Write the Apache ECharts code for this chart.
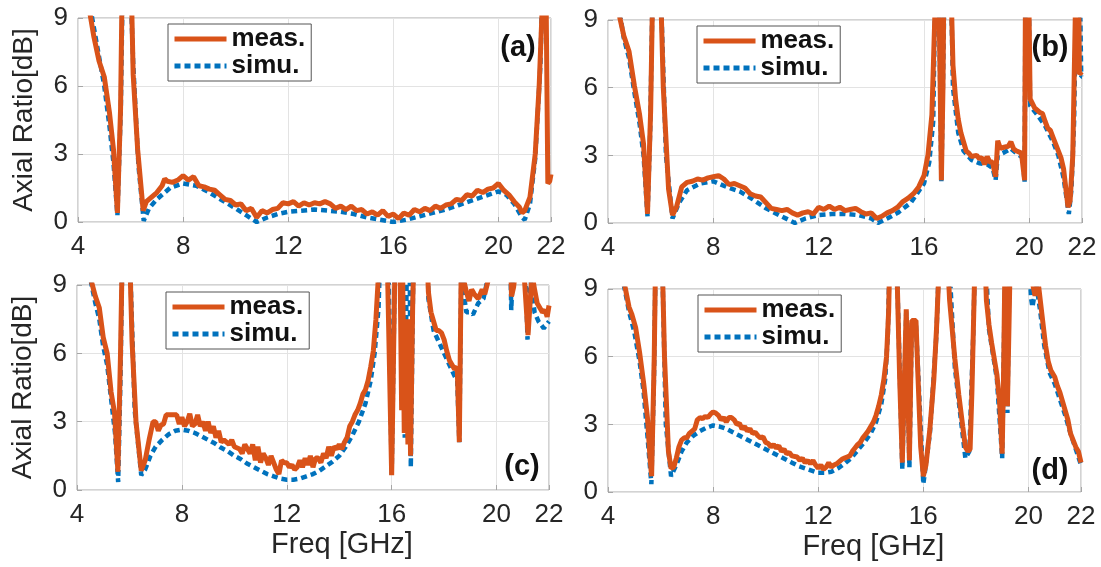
<!DOCTYPE html>
<html><head><meta charset="utf-8">
<script src="https://cdn.jsdelivr.net/npm/echarts@6/dist/echarts.min.js"></script>
<style>html,body{margin:0;padding:0;background:#fff}#c{width:1101px;height:567px}</style>
</head><body><div id="c"></div><script>
// ---------- data ----------
const seriesNames = ['meas.', 'simu.'];
const panelLabels = ['(a)', '(b)', '(c)', '(d)'];
const xTickLabels = [4, 8, 12, 16, 20, 22];
const yTickLabels = [0, 3, 6, 9];
const xTitle = 'Freq [GHz]';
const yTitle = 'Axial Ratio[dB]';

const measA = [[4.44,9.3],[4.6,8.2],[4.8,7.1],[5.0,6.4],[5.2,4.8],[5.35,3.2],[5.5,0.4],[5.62,5],[5.72,14],[5.96,14],[6.1,6.5],[6.27,3.2],[6.48,0.5],[6.6,0.9],[6.8,1.1],[7.0,1.3],[7.2,1.6],[7.3,1.9],[7.4,1.8],[7.6,1.75],[7.8,1.85],[8.0,2.05],[8.2,1.85],[8.4,2.0],[8.6,1.6],[8.8,1.55],[9.0,1.45],[9.2,1.4],[9.4,1.2],[9.6,1.0],[9.8,0.95],[10.0,0.75],[10.2,0.8],[10.4,0.5],[10.6,0.6],[10.8,0.2],[11.0,0.5],[11.2,0.4],[11.4,0.55],[11.6,0.6],[11.8,0.85],[12.0,0.8],[12.2,0.9],[12.4,0.7],[12.6,0.85],[12.8,0.75],[13.0,0.85],[13.2,0.8],[13.4,0.9],[13.6,0.8],[13.8,0.6],[14.0,0.7],[14.2,0.55],[14.4,0.7],[14.6,0.5],[14.8,0.55],[15.0,0.35],[15.2,0.45],[15.4,0.3],[15.6,0.5],[15.8,0.25],[16.0,0.35],[16.2,0.15],[16.4,0.4],[16.6,0.3],[16.8,0.55],[17.0,0.45],[17.2,0.6],[17.4,0.5],[17.6,0.7],[17.8,0.6],[18.0,0.75],[18.2,0.8],[18.4,1.0],[18.6,0.95],[18.8,1.2],[19.0,1.15],[19.2,1.4],[19.4,1.3],[19.6,1.45],[19.8,1.5],[20.0,1.7],[20.2,1.4],[20.4,1.2],[20.6,0.9],[20.8,0.65],[20.9,0.4],[21.0,0.5],[21.2,1.1],[21.4,3.0],[21.55,6.0],[21.7,10.5],[21.78,14],[21.84,14],[21.88,1.7],[21.95,1.8],[22.0,2.1]];
const simuA = [[4.46,9.5],[4.6,8.6],[4.8,7.3],[5.0,6.0],[5.2,4.2],[5.35,2.6],[5.5,0.3],[5.63,5],[5.72,12],[5.95,12],[6.1,7],[6.3,2.5],[6.5,0.05],[6.7,0.6],[7.0,1.0],[7.5,1.5],[8.0,1.7],[8.5,1.6],[9.0,1.3],[9.5,0.95],[10.0,0.6],[10.4,0.3],[10.8,0.0],[11.2,0.2],[11.6,0.35],[12.0,0.45],[12.5,0.5],[13.0,0.55],[13.5,0.5],[14.0,0.45],[14.5,0.35],[15.0,0.2],[15.5,0.1],[16.0,0.0],[16.5,0.1],[17.0,0.25],[17.5,0.4],[18.0,0.55],[18.5,0.75],[19.0,0.95],[19.5,1.15],[20.0,1.35],[20.3,1.2],[20.6,0.8],[20.9,0.2],[21.0,0.1],[21.2,0.8],[21.4,2.8],[21.6,7],[21.7,12],[22.0,12]];

const measB = [[4.43,9.2],[4.6,8.3],[4.8,7.6],[5.0,6.1],[5.2,4.8],[5.35,3.5],[5.5,0.4],[5.62,5],[5.72,12],[5.96,12],[6.1,6],[6.3,1.5],[6.45,0.35],[6.6,0.7],[6.8,1.6],[7.0,1.8],[7.2,1.85],[7.4,1.95],[7.6,1.9],[7.8,2.0],[8.0,2.05],[8.2,2.1],[8.4,1.95],[8.6,1.7],[8.8,1.75],[9.0,1.65],[9.2,1.55],[9.4,1.3],[9.6,1.2],[9.8,1.15],[10.0,0.9],[10.2,0.65],[10.4,0.6],[10.6,0.55],[10.8,0.6],[11.0,0.45],[11.2,0.35],[11.4,0.45],[11.6,0.5],[11.8,0.4],[12.0,0.7],[12.2,0.6],[12.4,0.75],[12.6,0.6],[12.8,0.7],[13.0,0.55],[13.2,0.6],[13.4,0.65],[13.6,0.5],[13.8,0.4],[14.0,0.45],[14.2,0.2],[14.4,0.3],[14.6,0.45],[14.8,0.55],[15.0,0.7],[15.2,0.95],[15.4,1.1],[15.6,1.3],[15.8,1.6],[16.0,2.1],[16.15,3.0],[16.3,4.8],[16.42,9.5],[16.47,14],[16.55,12],[16.66,1.9],[16.72,6],[16.78,14],[16.95,14],[17.1,7],[17.2,5.5],[17.3,4.6],[17.4,4.0],[17.5,3.6],[17.6,3.2],[17.7,3.1],[17.8,2.95],[18.0,3.0],[18.1,2.85],[18.2,2.9],[18.3,2.6],[18.4,2.95],[18.5,2.7],[18.6,2.7],[18.72,2.05],[18.8,3.65],[18.9,3.3],[19.0,3.35],[19.2,3.4],[19.3,3.6],[19.4,3.3],[19.5,3.2],[19.7,3.1],[19.82,1.9],[19.86,12],[19.96,12],[20.03,5.5],[20.2,5.1],[20.4,4.9],[20.5,4.85],[20.6,4.5],[20.7,4.2],[20.8,4.1],[20.9,3.8],[21.0,3.5],[21.1,3.2],[21.2,2.9],[21.3,2.4],[21.4,1.4],[21.47,0.7],[21.55,1.0],[21.65,3],[21.75,9.5],[21.85,14],[21.9,6.6],[22.0,6.7]];
const simuB = [[4.45,9.3],[4.6,8.2],[4.8,7.3],[5.0,5.8],[5.2,4.4],[5.35,3.0],[5.5,0.3],[5.6,4],[5.72,12],[5.96,12],[6.2,3],[6.45,0.2],[6.7,0.9],[7.0,1.45],[7.5,1.75],[8.0,1.85],[8.5,1.6],[9.0,1.4],[9.5,1.05],[10.0,0.65],[10.5,0.35],[11.1,0.0],[11.5,0.2],[12.0,0.35],[12.5,0.4],[13.0,0.4],[13.5,0.35],[14.0,0.2],[14.25,0.0],[14.6,0.2],[15.0,0.45],[15.5,0.9],[16.0,1.75],[16.2,2.7],[16.35,4.5],[16.45,12],[16.55,12],[16.66,1.8],[16.8,12],[17.0,12],[17.1,6],[17.3,4.0],[17.5,3.2],[17.8,2.8],[18.1,2.65],[18.4,2.6],[18.6,2.45],[18.72,1.9],[18.8,3.0],[19.0,3.1],[19.3,3.3],[19.5,3.1],[19.75,2.9],[19.82,1.8],[19.86,12],[19.96,12],[20.03,5.2],[20.3,4.8],[20.6,4.3],[20.9,3.6],[21.1,3.0],[21.3,2.0],[21.5,0.4],[21.6,1.5],[21.7,4.5],[21.8,12],[21.9,12],[21.97,6.5],[22.0,6.5]];

const measC = [[4.54,9.2],[4.7,8.5],[4.85,8.0],[5.0,6.7],[5.15,6.0],[5.3,4.3],[5.43,3.4],[5.56,0.8],[5.66,6],[5.75,12],[5.97,12],[6.1,6.5],[6.25,3.0],[6.45,0.85],[6.6,1.3],[6.75,2.2],[6.9,3.0],[7.0,3.0],[7.1,2.6],[7.2,2.85],[7.3,2.9],[7.4,3.3],[7.6,3.3],[7.8,3.3],[7.9,2.9],[8.0,3.2],[8.1,2.8],[8.2,3.0],[8.3,3.35],[8.4,2.8],[8.5,2.9],[8.6,3.3],[8.7,2.8],[8.8,3.0],[8.9,2.6],[9.0,3.0],[9.1,2.5],[9.2,2.8],[9.3,2.3],[9.4,2.6],[9.5,2.1],[9.6,2.2],[9.8,2.0],[9.9,2.2],[10.0,1.9],[10.2,1.8],[10.3,1.6],[10.4,2.0],[10.5,1.8],[10.6,1.6],[10.7,2.0],[10.8,1.3],[10.9,1.9],[11.0,1.2],[11.1,1.6],[11.2,1.4],[11.3,1.1],[11.4,1.5],[11.5,1.2],[11.6,0.9],[11.7,0.7],[11.8,1.3],[11.9,1.2],[12.0,1.2],[12.1,1.0],[12.2,1.1],[12.3,0.9],[12.4,1.0],[12.5,1.3],[12.6,1.0],[12.7,1.4],[12.8,1.1],[12.9,1.5],[13.0,1.0],[13.1,1.4],[13.2,1.4],[13.3,1.2],[13.4,1.6],[13.5,1.4],[13.6,1.9],[13.7,1.5],[13.8,1.9],[13.9,1.8],[14.0,2.0],[14.1,1.8],[14.2,2.1],[14.3,2.3],[14.4,2.8],[14.5,3.0],[14.6,3.3],[14.7,3.5],[14.8,3.8],[14.9,4.2],[15.0,4.4],[15.1,4.8],[15.2,5.4],[15.3,6.1],[15.4,7.5],[15.5,9.5],[15.55,12],[15.8,12],[16.0,0.65],[16.1,8],[16.15,12],[16.3,12],[16.38,3.5],[16.42,9.5],[16.48,2.5],[16.55,7.5],[16.62,2.0],[16.66,7.5],[16.72,1.5],[16.8,8],[16.88,12],[17.3,12],[17.4,8.7],[17.5,7.8],[17.6,7.4],[17.7,7.0],[17.8,7.0],[17.9,6.9],[18.0,6.6],[18.1,6.1],[18.2,5.7],[18.3,5.5],[18.4,5.3],[18.5,5.4],[18.58,2.1],[18.65,9.5],[18.7,12],[18.75,9.2],[18.85,8.7],[18.95,8.3],[19.05,8.8],[19.15,8.6],[19.3,8.4],[19.45,8.8],[19.55,8.6],[19.7,9.3],[19.8,12],[20.5,12],[20.57,8.5],[20.65,8.9],[20.75,10],[20.9,10.5],[21.05,9.5],[21.2,6.8],[21.35,9.5],[21.45,8.8],[21.55,8.2],[21.65,8.0],[21.75,7.8],[21.85,7.9],[21.93,7.6],[22.0,8.1]];
const simuC = [[4.52,9.2],[4.7,8.2],[4.85,7.5],[5.0,6.3],[5.15,5.5],[5.3,4.0],[5.45,2.5],[5.57,0.35],[5.66,5],[5.75,12],[5.97,12],[6.2,3.5],[6.45,0.65],[6.6,0.9],[6.8,1.5],[7.0,1.9],[7.25,2.2],[7.5,2.45],[7.75,2.6],[8.0,2.65],[8.25,2.6],[8.5,2.5],[8.75,2.35],[9.0,2.2],[9.25,2.05],[9.5,1.85],[9.75,1.7],[10.0,1.5],[10.25,1.35],[10.5,1.15],[10.75,1.0],[11.0,0.85],[11.25,0.7],[11.5,0.6],[11.75,0.5],[12.0,0.45],[12.25,0.45],[12.5,0.5],[12.75,0.6],[13.0,0.7],[13.25,0.85],[13.5,1.05],[13.75,1.25],[14.0,1.5],[14.25,1.9],[14.5,2.4],[14.75,3.0],[15.0,3.8],[15.2,4.8],[15.35,6.0],[15.5,8.0],[15.6,12],[15.85,12],[16.0,0.6],[16.15,12],[16.35,12],[16.5,2.3],[16.6,12],[16.68,12],[16.73,1.0],[16.85,12],[17.35,12],[17.4,8.4],[17.6,7.0],[17.8,6.5],[18.0,6.0],[18.2,5.5],[18.4,5.0],[18.5,4.8],[18.58,2.1],[18.68,12],[18.75,8.6],[18.85,7.8],[19.0,7.8],[19.1,7.7],[19.3,8.2],[19.5,8.4],[19.65,9.2],[19.75,12],[20.5,12],[20.56,7.9],[20.62,9.5],[20.7,12],[21.1,10],[21.18,6.6],[21.3,9.2],[21.45,7.8],[21.6,7.4],[21.8,7.1],[22.0,7.4]];

const measD = [[4.63,9.2],[4.8,8.2],[4.9,7.9],[5.05,7.3],[5.2,6.2],[5.36,4.8],[5.5,3.3],[5.6,1.5],[5.66,0.7],[5.76,6],[5.83,12],[6.03,12],[6.15,6],[6.3,1.8],[6.4,1.05],[6.5,1.1],[6.6,1.5],[6.7,2.0],[6.8,2.3],[6.9,2.4],[7.0,2.4],[7.1,2.6],[7.2,2.7],[7.3,2.8],[7.4,3.2],[7.5,3.3],[7.6,3.25],[7.7,3.35],[7.8,3.3],[7.9,3.45],[8.0,3.55],[8.1,3.5],[8.2,3.4],[8.3,3.2],[8.4,3.3],[8.5,3.1],[8.6,3.3],[8.7,3.3],[8.8,3.2],[8.9,3.0],[9.0,3.05],[9.1,2.8],[9.2,2.9],[9.3,2.7],[9.4,2.8],[9.5,2.6],[9.6,2.65],[9.7,2.5],[9.8,2.4],[9.9,2.45],[10.0,2.2],[10.1,2.15],[10.2,2.0],[10.3,2.1],[10.4,1.95],[10.5,2.05],[10.6,1.8],[10.7,1.9],[10.8,1.7],[10.9,1.75],[11.0,1.6],[11.2,1.55],[11.3,1.4],[11.4,1.5],[11.5,1.3],[11.6,1.4],[11.7,1.25],[11.8,1.4],[11.9,1.2],[12.0,1.05],[12.1,1.2],[12.2,1.0],[12.3,1.1],[12.4,1.3],[12.5,1.1],[12.6,1.2],[12.7,1.25],[12.8,1.35],[12.9,1.45],[13.0,1.5],[13.1,1.55],[13.2,1.6],[13.3,1.8],[13.4,1.95],[13.5,2.1],[13.6,2.2],[13.7,2.4],[13.8,2.55],[13.9,2.7],[14.0,2.9],[14.1,3.1],[14.2,3.4],[14.3,3.8],[14.4,4.3],[14.5,5.0],[14.6,6.0],[14.68,8.0],[14.75,12],[14.95,12],[15.1,5],[15.2,1.3],[15.28,5],[15.35,8.1],[15.42,4],[15.47,1.4],[15.52,5],[15.56,7.6],[15.72,7.6],[15.8,5],[15.9,2],[16.0,0.7],[16.1,1.2],[16.25,2.8],[16.4,5.0],[16.5,7.2],[16.6,10],[16.7,12],[16.85,12],[17.0,8.5],[17.1,7.2],[17.2,5.9],[17.35,4.3],[17.5,2.9],[17.6,2.0],[17.7,1.8],[17.78,1.9],[17.85,4.5],[17.92,8],[18.0,12],[18.3,12],[18.4,8.5],[18.5,7.4],[18.6,6.6],[18.7,5.9],[18.8,5.2],[18.9,4.0],[19.0,1.7],[19.05,5],[19.1,9.5],[19.15,6],[19.2,3.8],[19.27,8],[19.33,12],[20.0,12],[20.15,9.3],[20.25,8.7],[20.35,9.5],[20.45,8.5],[20.55,7.5],[20.65,6.5],[20.75,5.8],[20.85,5.4],[21.0,5.1],[21.1,4.7],[21.2,4.4],[21.3,4.0],[21.4,3.6],[21.5,3.2],[21.6,2.6],[21.7,2.3],[21.8,2.0],[21.9,1.8],[22.0,1.3]];
const simuD = [[4.6,9.2],[4.8,8.0],[5.0,7.1],[5.2,5.8],[5.35,4.5],[5.5,2.5],[5.65,0.35],[5.75,5],[5.83,12],[6.03,12],[6.2,3],[6.4,0.7],[6.6,1.2],[6.8,1.8],[7.0,2.2],[7.25,2.5],[7.5,2.7],[7.75,2.85],[8.0,2.95],[8.25,2.9],[8.5,2.8],[8.75,2.65],[9.0,2.5],[9.25,2.35],[9.5,2.2],[9.75,2.05],[10.0,1.9],[10.25,1.75],[10.5,1.6],[10.75,1.45],[11.0,1.3],[11.25,1.15],[11.5,1.05],[11.75,0.95],[12.0,0.85],[12.25,0.85],[12.5,0.9],[12.75,1.05],[13.0,1.25],[13.25,1.5],[13.5,1.85],[13.75,2.2],[14.0,2.6],[14.2,3.1],[14.4,3.9],[14.55,5.0],[14.65,7],[14.75,12],[14.95,12],[15.2,1.0],[15.35,8],[15.47,1.1],[15.56,7.5],[15.72,7.4],[16.0,0.35],[16.25,2.6],[16.5,7],[16.65,12],[16.9,12],[17.2,5.5],[17.5,2.5],[17.6,1.5],[17.75,1.8],[17.9,7],[18.0,12],[18.3,12],[18.5,7.2],[18.8,5.0],[19.0,1.5],[19.1,9],[19.2,3.5],[19.3,12],[19.95,12],[20.1,8.6],[20.15,8.2],[20.3,9.2],[20.45,8.0],[20.6,6.5],[20.8,5.3],[21.0,4.8],[21.2,4.1],[21.4,3.4],[21.6,2.6],[21.8,1.9],[22.0,1.2]];

const measAll = [measA, measB, measC, measD];
const simuAll = [simuA, simuB, simuC, simuD];

// ---------- layout ----------
const grids = [
  {left: 78, top: 18, width: 473, height: 204},
  {left: 608, top: 20, width: 474, height: 203},
  {left: 77, top: 285, width: 472, height: 205},
  {left: 608, top: 289, width: 473, height: 203}
];
const legendPos = [{left: 168, top: 24}, {left: 697, top: 26}, {left: 166, top: 292}, {left: 698, top: 295}];
const labelPos = [[518, 48], [1050, 48], [522, 467], [1050, 471]];

const FONT = 'Liberation Sans';
const ORANGE = '#D95319', BLUE = '#0072BD';

const option = {
  animation: false,
  backgroundColor: '#fff',
  textStyle: {fontFamily: FONT},
  grid: grids.map(g => Object.assign({show: true, borderColor: '#a6a6a6', borderWidth: 1, backgroundColor: '#fff', containLabel: false}, g)),
  xAxis: grids.map((g, i) => ({
    type: 'value', gridIndex: i, min: xTickLabels[0], max: xTickLabels[xTickLabels.length - 1], interval: 4,
    axisLine: {show: false},
    axisTick: {show: true, inside: true, length: 5, lineStyle: {color: '#a6a6a6'}},
    splitLine: {show: true, lineStyle: {color: '#e3e3e3', width: 1}},
    axisLabel: {show: true, color: '#262626', fontSize: 26, fontFamily: FONT, margin: 12,
      formatter: v => xTickLabels.includes(v) ? String(v) : ''},
    name: i >= 2 ? xTitle : '', nameLocation: 'middle', nameGap: 40,
    nameTextStyle: {fontSize: 29, color: '#262626', fontFamily: FONT, padding: [0, 0, 0, 58]}
  })),
  yAxis: grids.map((g, i) => ({
    type: 'value', gridIndex: i, min: yTickLabels[0], max: yTickLabels[yTickLabels.length - 1], interval: 3,
    axisLine: {show: false},
    axisTick: {show: true, inside: true, length: 5, lineStyle: {color: '#a6a6a6'}},
    splitLine: {show: true, lineStyle: {color: '#e3e3e3', width: 1}},
    axisLabel: {show: true, color: '#262626', fontSize: 26, fontFamily: FONT, margin: 10},
    name: (i % 2 === 0) ? yTitle : '', nameLocation: 'middle', nameGap: 40, nameRotate: 90,
    nameTextStyle: {fontSize: 28, color: '#262626', fontFamily: FONT}
  })),
  legend: grids.map((g, i) => ({
    data: seriesNames, orient: 'vertical', left: legendPos[i].left, top: legendPos[i].top,
    itemWidth: 52, itemHeight: 14, itemGap: 1, padding: [2, 6, 2, 4],
    backgroundColor: '#fff', borderColor: '#555', borderWidth: 1, borderRadius: 0,
    itemStyle: {color: 'rgba(0,0,0,0)', borderColor: 'rgba(0,0,0,0)', borderWidth: 0, opacity: 0},
    lineStyle: {width: 5},
    textStyle: {fontSize: 26, fontWeight: 'bold', color: '#111', fontFamily: FONT},
    selectedMode: false
  })),
  graphic: panelLabels.map((t, i) => ({
    type: 'text', x: labelPos[i][0], y: labelPos[i][1], z: 100,
    style: {text: t, fontSize: 29, fontWeight: 'bold', fill: '#111', fontFamily: FONT, align: 'center', verticalAlign: 'middle'}
  })),
  series: []
};

grids.forEach((g, i) => {
  option.series.push({
    name: seriesNames[1], type: 'line', xAxisIndex: i, yAxisIndex: i, data: simuAll[i],
    showSymbol: false, symbol: 'none', clip: true, z: 2,
    lineStyle: {color: BLUE, width: 4.5, type: [6, 4]}, itemStyle: {color: BLUE}
  });
  option.series.push({
    name: seriesNames[0], type: 'line', xAxisIndex: i, yAxisIndex: i, data: measAll[i],
    showSymbol: false, symbol: 'none', clip: true, z: 3,
    lineStyle: {color: ORANGE, width: 5}, itemStyle: {color: ORANGE}
  });
});

const chart = echarts.init(document.getElementById('c'), null, {renderer: 'canvas'});
chart.setOption(option);
</script></body></html>
